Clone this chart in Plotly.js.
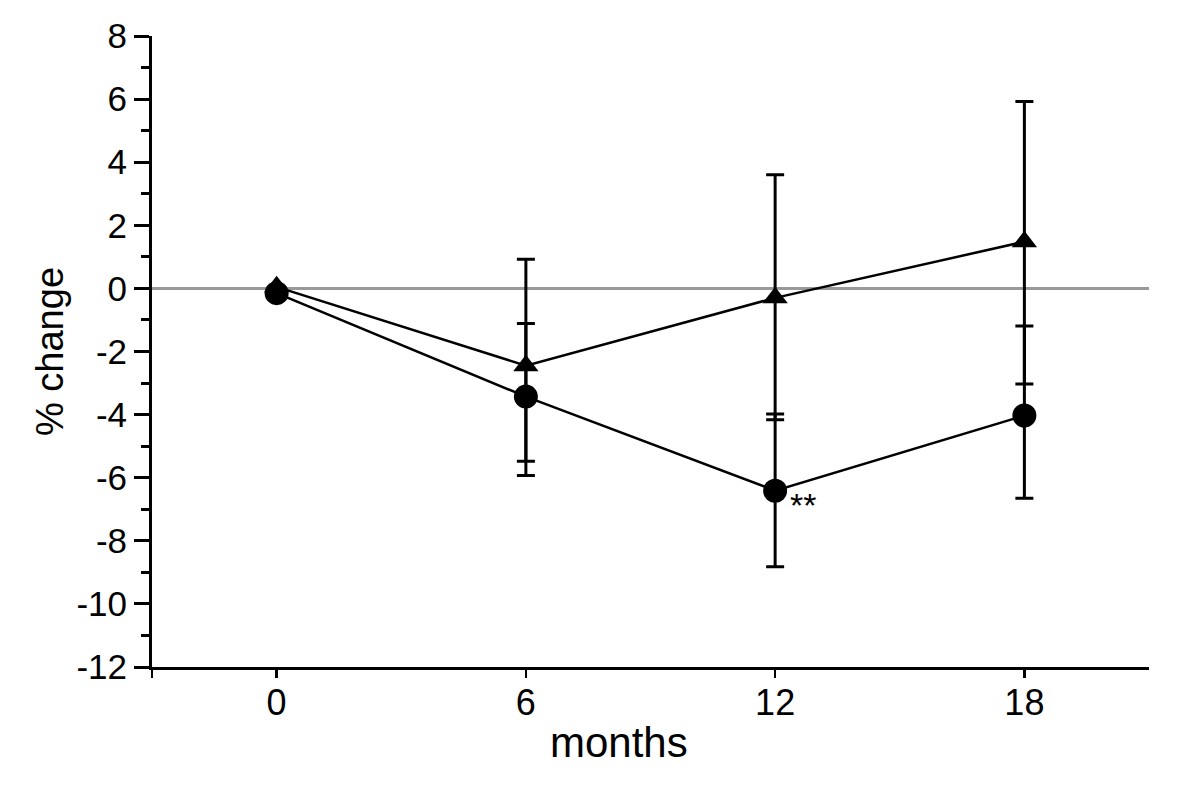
<!DOCTYPE html>
<html>
<head>
<meta charset="utf-8">
<script src="https://cdn.plot.ly/plotly-3.0.1.min.js"></script>
<style>html,body{margin:0;padding:0;background:#fff;}#chart{width:1200px;height:790px;}</style>
</head>
<body>
<div id="chart"></div>
<script>
// months of follow-up
const months = [0, 6, 12, 18];

// series drawn with filled circles
const circleValues = [-0.15, -3.43, -6.41, -4.03];
const circleErrPlus = [0, 2.32, 2.43, 2.84];
const circleErrMinus = [0, 2.05, 2.41, 2.62];

// series drawn with filled triangles
const triangleValues = [0.05, -2.45, -0.3, 1.48];
const triangleErrPlus = [0, 3.37, 3.9, 4.44];
const triangleErrMinus = [0, 3.48, 3.86, 4.51];

// tick labels
const xTickVals = [-3, 0, 6, 12, 18];
const xTickText = ['', '0', '6', '12', '18'];
const yTickVals = [-12, -10, -8, -6, -4, -2, 0, 2, 4, 6, 8];
const yTickText = ['-12', '-10', '-8', '-6', '-4', '-2', '0', '2', '4', '6', '8'];

const FONT = 'Liberation Sans, Arial, Helvetica, sans-serif';

const errStyle = {thickness: 3, width: 9, color: '#000'};

const traces = [
  {
    x: months, y: triangleValues, type: 'scatter', mode: 'lines+markers',
    line: {color: '#000', width: 2.5},
    marker: {symbol: 'triangle-up', size: 22, color: '#000'},
    error_y: Object.assign({type: 'data', symmetric: false, array: triangleErrPlus, arrayminus: triangleErrMinus, visible: true}, errStyle),
    cliponaxis: false, showlegend: false
  },
  {
    x: months, y: circleValues, type: 'scatter', mode: 'lines+markers',
    line: {color: '#000', width: 2.5},
    marker: {symbol: 'circle', size: 24, color: '#000'},
    error_y: Object.assign({type: 'data', symmetric: false, array: circleErrPlus, arrayminus: circleErrMinus, visible: true}, errStyle),
    cliponaxis: false, showlegend: false
  }
];

const layout = {
  width: 1200, height: 790,
  margin: {l: 152, r: 51, t: 36, b: 123},
  paper_bgcolor: '#fff', plot_bgcolor: '#fff',
  font: {family: FONT, color: '#000'},
  showlegend: false,
  xaxis: {
    range: [-3, 21],
    tickvals: xTickVals, ticktext: xTickText,
    showline: true, linecolor: '#000', linewidth: 3,
    ticks: 'outside', ticklen: 8, tickwidth: 2.5, tickcolor: '#000',
    ticklabelstandoff: -6,
    showgrid: false, zeroline: false,
    tickfont: {size: 36, family: FONT},
    automargin: false
  },
  yaxis: {
    range: [-12, 8],
    tickvals: yTickVals, ticktext: yTickText,
    showline: true, linecolor: '#000', linewidth: 3,
    ticks: 'outside', ticklen: 15, tickwidth: 3, tickcolor: '#000',
    minor: {dtick: 1, ticks: 'outside', ticklen: 8, tickwidth: 3, tickcolor: '#000', showgrid: false},
    showgrid: false,
    zeroline: true, zerolinecolor: '#999999', zerolinewidth: 3,
    tickfont: {size: 35, family: FONT},
    title: {text: '% change', font: {size: 38, family: FONT}, standoff: 2},
    automargin: false
  },
  annotations: [
    {x: months[2], y: circleValues[2], xref: 'x', yref: 'y', text: '**', showarrow: false,
     xanchor: 'left', yanchor: 'middle', xshift: 13, yshift: -14,
     font: {size: 34, family: FONT, color: '#000'}},
    {x: 0.468, y: 0, xref: 'paper', yref: 'paper', text: 'months', showarrow: false,
     xanchor: 'center', yanchor: 'middle',
     font: {size: 42, family: FONT, color: '#000'}}
  ]
};
// place the x-axis title annotation relative to the plot area
layout.annotations[1].y = 1 - (742 - 36) / (790 - 36 - 123);

Plotly.newPlot('chart', traces, layout, {staticPlot: true});
</script>
</body>
</html>
